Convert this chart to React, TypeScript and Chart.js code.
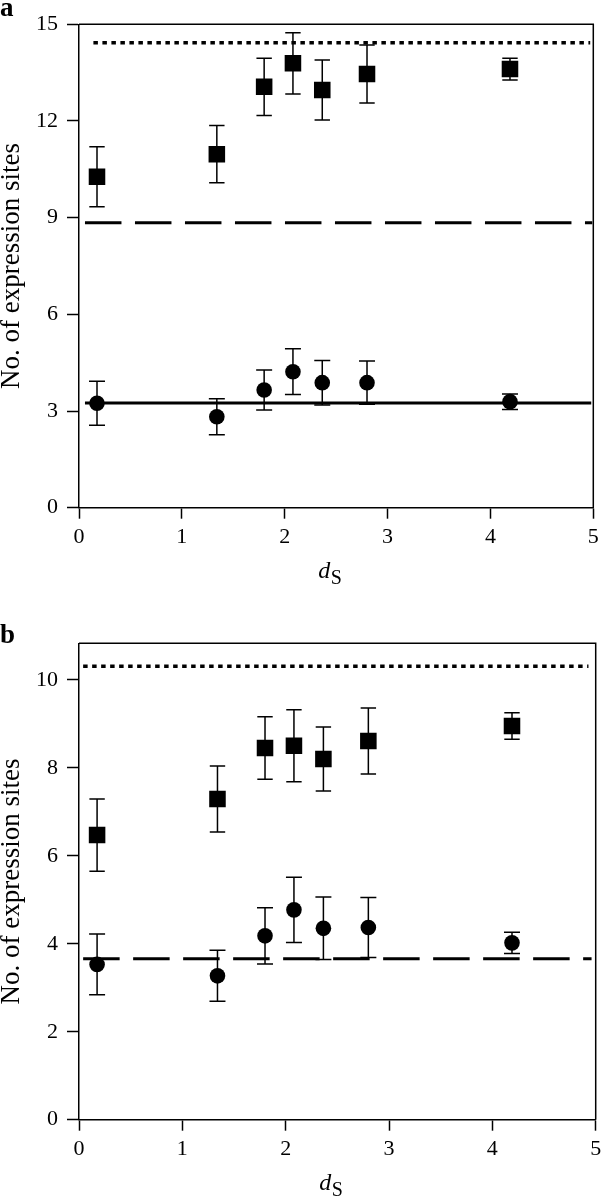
import React, { useEffect, useRef } from "react";
import { Chart, registerables } from "chart.js";

Chart.register(...registerables);

const FONT = "'Liberation Serif', 'Times New Roman', Times, serif";

// d_S positions of the seven data points (shared by both panels)
const dsValues = [0.175, 1.34, 1.8, 2.08, 2.365, 2.8, 4.19];

// Panel a
const squaresA = [10.27, 10.97, 13.06, 13.79, 12.96, 13.46, 13.61];
const squaresAErr = [0.93, 0.89, 0.89, 0.95, 0.93, 0.9, 0.34];
const circlesA = [3.24, 2.82, 3.65, 4.22, 3.88, 3.88, 3.29];
const circlesAErr = [0.68, 0.56, 0.62, 0.71, 0.69, 0.67, 0.24];
const dottedA = 14.43;
const dashedA = 8.84;
const solidA = 3.25;
const yTicksA = { max: 15, step: 3 };

// Panel b
const squaresB = [6.47, 7.29, 8.45, 8.5, 8.2, 8.61, 8.95];
const squaresBErr = [0.82, 0.75, 0.71, 0.82, 0.73, 0.75, 0.3];
const circlesB = [3.53, 3.27, 4.18, 4.77, 4.35, 4.37, 4.02];
const circlesBErr = [0.69, 0.58, 0.64, 0.74, 0.71, 0.68, 0.24];
const dottedB = 10.31;
const dashedB = 3.66;
const yTicksB = { max: 10.83, step: 2 };

const xTicks = { min: 0, max: 5, step: 1 };

const errorBarPlugin = {
  id: "errorBars",
  beforeDatasetsDraw(chart: any) {
    const { ctx } = chart;
    const x = chart.scales.x;
    const y = chart.scales.y;
    ctx.save();
    ctx.strokeStyle = "#000";
    ctx.lineWidth = 1.5;
    chart.data.datasets.forEach((ds: any) => {
      const errs = ds.yErr;
      if (!errs) return;
      const cap = ds.capHalf || 8;
      ds.data.forEach((pt: any, j: number) => {
        const px = x.getPixelForValue(pt.x);
        const top = y.getPixelForValue(pt.y + errs[j]);
        const bot = y.getPixelForValue(pt.y - errs[j]);
        ctx.beginPath();
        ctx.moveTo(px, top);
        ctx.lineTo(px, bot);
        ctx.moveTo(px - cap, top);
        ctx.lineTo(px + cap, top);
        ctx.moveTo(px - cap, bot);
        ctx.lineTo(px + cap, bot);
        ctx.stroke();
      });
    });
    ctx.restore();
  },
};

const framePlugin = {
  id: "frame",
  afterDraw(chart: any, _args: any, opts: any) {
    const { ctx } = chart;
    const { left, right, top, bottom } = chart.chartArea;
    ctx.save();
    ctx.strokeStyle = "#000";
    ctx.lineWidth = 1.5;
    ctx.beginPath();
    ctx.moveTo(left, top);
    ctx.lineTo(right, top);
    ctx.lineTo(right, bottom);
    ctx.stroke();

    ctx.fillStyle = "#000";
    ctx.textAlign = "left";
    ctx.textBaseline = "alphabetic";
    ctx.font = `bold 27px ${FONT}`;
    ctx.fillText(opts.letter, 0, opts.letterY);

    const cx = (left + right) / 2 - 18;
    const by = bottom + 70.3;
    ctx.font = `italic 24px ${FONT}`;
    ctx.fillText("d", cx, by);
    const w = ctx.measureText("d").width;
    ctx.font = `20px ${FONT}`;
    ctx.fillText("S", cx + w + 0.5, by + 6);
    ctx.restore();
  },
};

function pts(ys: number[]) {
  return ys.map((v, i) => ({ x: dsValues[i], y: v }));
}

function hline(y: number, x0: number, x1: number, dash: number[], width: number) {
  return {
    data: [
      { x: x0, y },
      { x: x1, y },
    ],
    showLine: true,
    borderColor: "#000",
    borderWidth: width,
    borderDash: dash,
    borderCapStyle: "butt",
    pointRadius: 0,
    fill: false,
  };
}

function buildConfig(p: any) {
  return {
    type: "scatter",
    data: {
      datasets: [
        {
          data: pts(p.squares),
          yErr: p.squaresErr,
          capHalf: 7.7,
          pointStyle: "rect",
          pointRadius: 11.7,
          pointBackgroundColor: "#000",
          pointBorderWidth: 0,
          backgroundColor: "#000",
          borderWidth: 0,
        },
        {
          data: pts(p.circles),
          yErr: p.circlesErr,
          capHalf: 8,
          pointStyle: "circle",
          pointRadius: 7.8,
          pointBackgroundColor: "#000",
          pointBorderWidth: 0,
          backgroundColor: "#000",
          borderWidth: 0,
        },
        ...p.lines,
      ],
    },
    options: {
      responsive: false,
      animation: false,
      events: [],
      layout: {
        autoPadding: false,
        padding: { top: p.padTop, right: p.padRight, left: 0, bottom: 0 },
      },
      plugins: {
        legend: { display: false },
        tooltip: { enabled: false },
        frame: { letter: p.letter, letterY: p.letterY },
      },
      scales: {
        x: {
          type: "linear",
          min: xTicks.min,
          max: xTicks.max,
          afterFit: (s: any) => {
            s.height = p.xHeight;
            s.paddingLeft = 0;
            s.paddingRight = 0;
          },
          ticks: {
            stepSize: xTicks.step,
            color: "#000",
            font: { family: FONT, size: 22 },
            padding: 5,
            maxRotation: 0,
          },
          grid: {
            drawOnChartArea: false,
            drawTicks: true,
            tickLength: 11,
            tickWidth: 1.5,
            tickColor: "#000",
          },
          border: { display: true, color: "#000", width: 1.5 },
        },
        y: {
          type: "linear",
          min: 0,
          max: p.yTicks.max,
          afterFit: (s: any) => {
            s.width = 79;
            s.paddingTop = 0;
            s.paddingBottom = 0;
          },
          ticks: {
            stepSize: p.yTicks.step,
            includeBounds: false,
            color: "#000",
            font: { family: FONT, size: 22 },
            padding: 9,
          },
          grid: {
            drawOnChartArea: false,
            drawTicks: true,
            tickLength: 12,
            tickWidth: 1.5,
            tickColor: "#000",
          },
          border: { display: true, color: "#000", width: 1.5 },
          title: {
            display: true,
            text: "No. of expression sites",
            color: "#000",
            font: { family: FONT, size: 27, lineHeight: 0.85 },
            padding: 0,
          },
        },
      },
    },
    plugins: [errorBarPlugin, framePlugin],
  };
}

const panelA = {
  letter: "a",
  letterY: 16,
  squares: squaresA,
  squaresErr: squaresAErr,
  circles: circlesA,
  circlesErr: circlesAErr,
  yTicks: yTicksA,
  padTop: 24.3,
  padRight: 7.7,
  xHeight: 92.3,
  lines: [
    hline(dottedA, 0.14, 4.97, [4.5, 4.5], 3.5),
    hline(dashedA, 0.058, 4.99, [36.5, 13.5], 3),
    hline(solidA, 0.058, 4.98, [], 3),
  ],
};

const panelB = {
  letter: "b",
  letterY: 43,
  squares: squaresB,
  squaresErr: squaresBErr,
  circles: circlesB,
  circlesErr: circlesBErr,
  yTicks: yTicksB,
  padTop: 43.3,
  padRight: 5.3,
  xHeight: 79.3,
  lines: [
    hline(dottedB, 0.04, 4.93, [4.5, 4.5], 3.5),
    hline(dashedB, 0.04, 4.96, [36.5, 13.5], 3),
  ],
};

function Panel({ cfg, top, height }: { cfg: any; top: number; height: number }) {
  const ref = useRef<HTMLCanvasElement | null>(null);
  useEffect(() => {
    if (!ref.current) return;
    const chart = new Chart(ref.current, buildConfig(cfg) as any);
    return () => chart.destroy();
  }, [cfg]);
  return (
    <canvas
      ref={ref}
      width={601}
      height={height}
      style={{ position: "absolute", left: 0, top, width: 601, height, display: "block" }}
    />
  );
}

export default function App() {
  return (
    <div style={{ position: "absolute", left: 0, top: 0, width: 601, height: 1199, background: "#fff" }}>
      <Panel cfg={panelA} top={0} height={600} />
      <Panel cfg={panelB} top={600} height={599} />
    </div>
  );
}
